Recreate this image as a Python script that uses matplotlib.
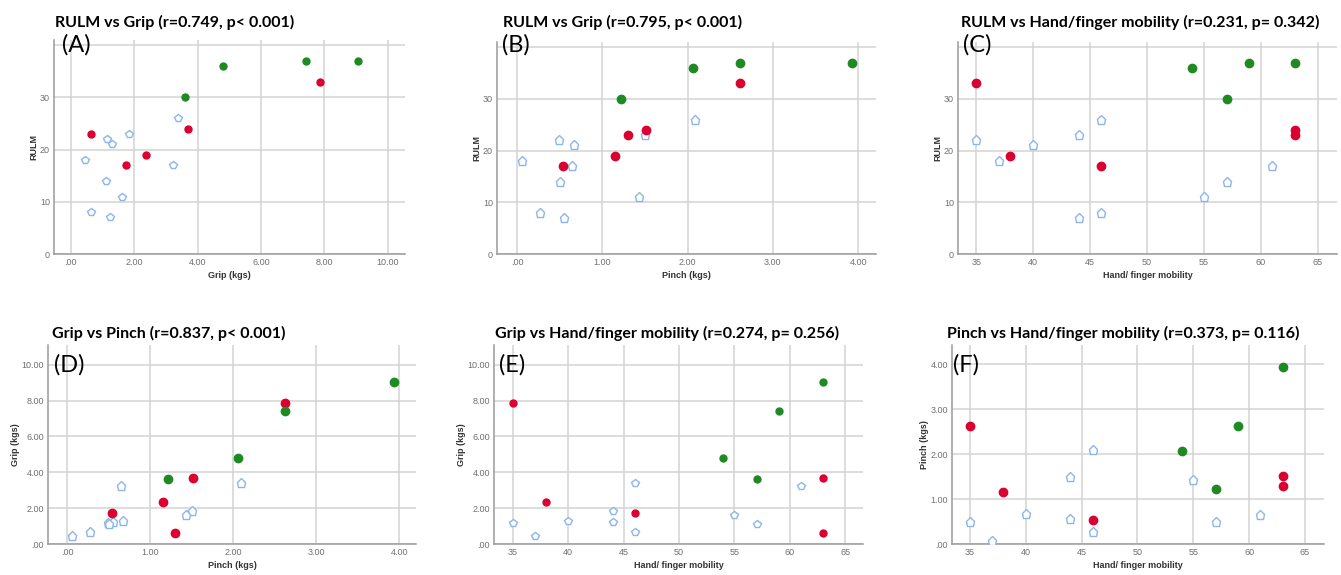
import numpy as np
import matplotlib
matplotlib.use("Agg")
import matplotlib.pyplot as plt
from matplotlib.ticker import FuncFormatter

# Subjects split in three groups, same subjects in every panel
blue_mobility = [35, 37, 40, 44, 44, 46, 46, 55, 57, 61]
blue_rulm = [22, 18, 21, 23, 7, 26, 8, 11, 14, 17]
blue_grip = [1.15, 0.44, 1.30, 1.83, 1.24, 3.39, 0.65, 1.61, 1.10, 3.24]
blue_pinch = [0.49, 0.06, 0.67, 1.50, 0.55, 2.09, 0.27, 1.43, 0.50, 0.65]

red_mobility = [35, 38, 46, 63, 63]
red_rulm = [33, 19, 17, 24, 23]
red_grip = [7.87, 2.37, 1.74, 3.70, 0.63]
red_pinch = [2.62, 1.15, 0.54, 1.51, 1.30]

green_mobility = [54, 57, 59, 63]
green_rulm = [36, 30, 37, 37]
green_grip = [4.81, 3.61, 7.41, 9.06]
green_pinch = [2.06, 1.22, 2.62, 3.93]

titles = ["RULM vs Grip (r=0.749, p< 0.001)",
          "RULM vs Grip (r=0.795, p< 0.001)",
          "RULM vs Hand/finger mobility (r=0.231, p= 0.342)",
          "Grip vs Pinch (r=0.837, p< 0.001)",
          "Grip vs Hand/finger mobility (r=0.274, p= 0.256)",
          "Pinch vs Hand/finger mobility (r=0.373, p= 0.116)"]
letters = ["(A)", "(B)", "(C)", "(D)", "(E)", "(F)"]

W, H = 1341, 575
BLUE = "#8cb6ea"
RED = "#dc0030"
GREEN = "#1f8a24"
GRID = "#d3d3d3"
TICK = "#707070"


def dec_fmt(v, pos):
    s = "%.2f" % v
    return s[1:] if s.startswith("0.") else s


def hide_top(v, pos):
    return "" if v >= 40 else "%d" % v


def make_ax(l, r, t, b):
    return fig.add_axes([l / W, 1 - b / H, (r - l) / W, (b - t) / H])


def panel(ax, xs, ys, xlabel, ylabel, xlim, ylim, xticks, yticks, xfmt, yfmt, ms):
    bx, rx, gx = xs
    by, ry, gy = ys
    ax.plot(bx, by, linestyle="none", marker="p", ms=ms + 0.5, mfc="white",
            mec=BLUE, mew=1.0, zorder=3)
    ax.plot(rx, ry, linestyle="none", marker="o", ms=ms, color=RED, zorder=4)
    ax.plot(gx, gy, linestyle="none", marker="o", ms=ms, color=GREEN, zorder=4)
    ax.set_xlim(xlim)
    ax.set_ylim(ylim)
    ax.set_xticks(xticks)
    ax.set_yticks(yticks)
    ax.xaxis.set_major_formatter(FuncFormatter(xfmt))
    ax.yaxis.set_major_formatter(FuncFormatter(yfmt))
    ax.grid(True, color=GRID, linewidth=1.1)
    ax.set_axisbelow(True)
    for s in ["top", "right"]:
        ax.spines[s].set_visible(False)
    for s in ["left", "bottom"]:
        ax.spines[s].set_color("#9a9a9a")
        ax.spines[s].set_linewidth(1.1)
    ax.tick_params(length=0, labelsize=6.5, labelcolor=TICK, pad=3)
    for lab in ax.get_xticklabels() + ax.get_yticklabels():
        lab.set_family("Liberation Sans")
    ax.set_xlabel(xlabel, fontsize=6.5, fontweight="bold", family="Liberation Sans",
                  color="#333333", labelpad=3)
    ax.set_ylabel(ylabel, fontsize=6.5, fontweight="bold", family="Liberation Sans",
                  color="#333333", labelpad=1)


fig = plt.figure(figsize=(W / 100, H / 100), dpi=100)

boxes = [(54, 405, 40, 254), (497, 876, 42, 254), (958, 1337, 42, 254),
         (48, 416, 345, 544), (494, 863, 345, 544), (952, 1324, 345, 544)]
title_pos = [(55, 22), (503, 22), (961, 22), (52, 333), (495, 333), (947, 333)]
letter_pos = [(62, 45), (502, 45), (963, 45), (54, 365), (499, 365), (953, 365)]

int_fmt = lambda v, pos: "%d" % v

axs = [make_ax(*b) for b in boxes]

panel(axs[0], (blue_grip, red_grip, green_grip), (blue_rulm, red_rulm, green_rulm),
      "Grip (kgs)", "RULM", (-0.53, 10.55), (0, 41),
      np.arange(0, 11, 2), np.arange(0, 41, 10), dec_fmt, hide_top, 5)
panel(axs[1], (blue_pinch, red_pinch, green_pinch), (blue_rulm, red_rulm, green_rulm),
      "Pinch (kgs)", "RULM", (-0.235, 4.21), (0, 41),
      np.arange(0, 5, 1), np.arange(0, 41, 10), dec_fmt, hide_top, 6)
panel(axs[2], (blue_mobility, red_mobility, green_mobility), (blue_rulm, red_rulm, green_rulm),
      "Hand/ finger mobility", "RULM", (33.4, 66.7), (0, 41),
      np.arange(35, 66, 5), np.arange(0, 41, 10), int_fmt, hide_top, 6)
panel(axs[3], (blue_pinch, red_pinch, green_pinch), (blue_grip, red_grip, green_grip),
      "Pinch (kgs)", "Grip (kgs)", (-0.23, 4.2), (0, 11.1),
      np.arange(0, 5, 1), np.arange(0, 11, 2), dec_fmt, dec_fmt, 6)
panel(axs[4], (blue_mobility, red_mobility, green_mobility), (blue_grip, red_grip, green_grip),
      "Hand/ finger mobility", "Grip (kgs)", (33.3, 66.6), (0, 11.1),
      np.arange(35, 66, 5), np.arange(0, 11, 2), int_fmt, dec_fmt, 5)
panel(axs[5], (blue_mobility, red_mobility, green_mobility), (blue_pinch, red_pinch, green_pinch),
      "Hand/ finger mobility", "Pinch (kgs)", (33.4, 66.7), (0, 4.43),
      np.arange(35, 66, 5), np.arange(0, 5, 1), int_fmt, dec_fmt, 6)

# titles and panel letters sit in figure pixel coords
for (x, y), t in zip(title_pos, titles):
    fig.text(x / W, 1 - y / H, t, fontsize=11.5, fontweight="bold", family="Lato",
             ha="left", va="center", color="black")
for (x, y), t in zip(letter_pos, letters):
    fig.text(x / W, 1 - y / H, t, fontsize=17, family="Lato",
             ha="left", va="center", color="black")

fig.savefig("out.png", dpi=100, facecolor="white")
